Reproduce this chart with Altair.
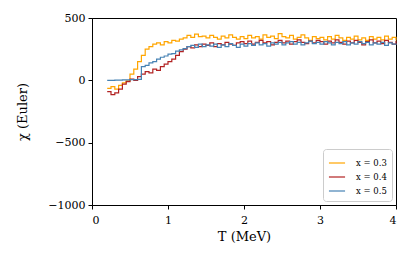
import altair as alt
import pandas as pd

T = [0.20,0.25,0.30,0.35,0.40,0.45,0.50,0.55,0.60,0.65,0.70,0.75,0.80,0.85,0.90,0.95,
     1.00,1.05,1.10,1.15,1.20,1.25,1.30,1.35,1.40,1.45,1.50,1.55,1.60,1.65,1.70,1.75,
     1.80,1.85,1.90,1.95,2.00,2.05,2.10,2.15,2.20,2.25,2.30,2.35,2.40,2.45,2.50,2.55,
     2.60,2.65,2.70,2.75,2.80,2.85,2.90,2.95,3.00,3.05,3.10,3.15,3.20,3.25,3.30,3.35,
     3.40,3.45,3.50,3.55,3.60,3.65,3.70,3.75,3.80,3.85,3.90,3.95,4.00]

chi_03 = [-65,-50,-70,-40,-20,-5,50,90,150,200,250,270,290,300,285,310,
          300,320,315,330,340,360,345,370,350,355,340,360,345,330,355,340,
          365,345,330,350,335,360,340,350,330,365,345,355,335,375,350,340,
          360,330,345,365,340,320,350,335,345,325,350,330,360,340,320,345,
          330,355,325,340,320,350,330,345,325,355,330,345,320]

chi_04 = [-90,-115,-100,-70,-30,-10,10,0,30,50,70,60,90,80,110,130,
          150,170,200,230,250,270,260,285,270,290,280,300,270,295,285,305,
          290,280,300,310,295,315,290,305,320,300,310,285,305,320,300,315,
          290,310,325,305,295,315,300,320,310,290,315,300,325,305,290,315,
          300,320,305,285,310,325,300,315,295,320,305,290,315]

chi_05 = [0,0,2,2,3,4,5,6,8,110,120,140,150,170,185,195,
          210,215,235,245,255,270,280,265,290,270,285,275,290,265,285,270,
          295,280,265,290,275,295,280,300,285,295,275,300,290,305,285,300,
          310,290,305,285,300,315,295,305,290,310,300,285,305,295,310,285,
          300,290,310,295,305,285,300,290,305,280,300,290,295]

labels = ["x = 0.3", "x = 0.4", "x = 0.5"]
colors = ["#FFA500", "#B22222", "#4682B4"]

rows = []
for lab, series in zip(labels, [chi_03, chi_04, chi_05]):
    for t, v in zip(T, series):
        rows.append({"T": t, "chi": v, "series": lab})
df = pd.DataFrame(rows)

font = "DejaVu Serif"

chart = alt.Chart(df).mark_line(strokeWidth=1.2, interpolate="step-after").encode(
    x=alt.X("T:Q", scale=alt.Scale(domain=[0, 4], nice=False),
            axis=alt.Axis(values=[0, 1, 2, 3, 4], title="T (MeV)", format="d",
                          labelPadding=5, titlePadding=5)),
    y=alt.Y("chi:Q", scale=alt.Scale(domain=[-1000, 500], nice=False),
            axis=alt.Axis(values=[-1000, -500, 0, 500], title="χ (Euler)", format="d",
                          labelExpr="replace(datum.label, '-', '−')",
                          labelPadding=3, titlePadding=18)),
    color=alt.Color("series:N", scale=alt.Scale(domain=labels, range=colors),
                    legend=alt.Legend(title=None, orient="bottom-right", symbolType="stroke",
                                      symbolStrokeWidth=1.2, symbolSize=260,
                                      labelFont=font, labelFontSize=8.5, labelOffset=10,
                                      strokeColor="#cccccc", cornerRadius=3,
                                      padding=5, offset=4, fillColor="white",
                                      rowPadding=0)),
).properties(
    width=304, height=187,
    autosize=alt.AutoSizeParams(type="none"),
    padding={"left": 84, "top": 10, "right": 2, "bottom": 50},
).configure_view(
    stroke="black", strokeWidth=1
).configure_axis(
    grid=False, domainColor="black", tickColor="black", tickSize=4,
    labelFont=font, labelFontSize=11, labelColor="black",
    titleFont=font, titleFontSize=13, titleFontWeight="normal", titleColor="black",
)

chart.save("out.html", embed_options={"renderer": "svg", "actions": False})
